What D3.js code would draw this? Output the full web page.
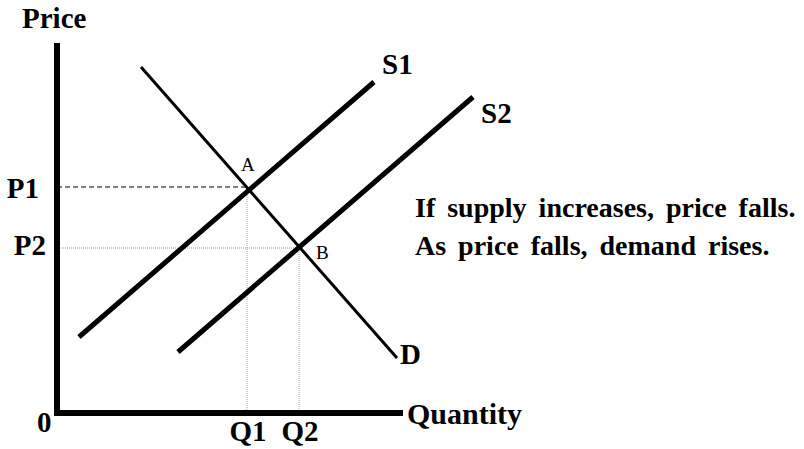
<!DOCTYPE html>
<html lang="en">
<head>
    <meta charset="utf-8">
    <title>Supply shift</title>
    <script type="text/javascript" src="https://d3js.org/d3.v7.min.js"></script>
    <style type="text/css">
        body { margin: 0; background: #fff; }
        text { font-family: "Liberation Serif", "Times New Roman", serif; fill: #000; }
    </style>
</head>
<body>

<script type="text/javascript">

    // Curves as [quantity, price] end points (0..100 units)
    var demand = [[21, 86.5], [85, 13.75]];
    var supply1 = [[5.5, 19], [79.25, 82.75]];
    var supply2 = [[30.25, 15.25], [104, 79]];

    var curveNames = ["S1", "S2", "D"];

    // Equilibrium points
    var pointNames = ["A", "B"];
    var pointQuantity = [47.5, 60.5];
    var pointPrice = [56.5, 41.25];

    var priceLabels = ["P1", "P2"];
    var quantityLabels = ["Q1", "Q2"];

    var axisTop = 92.5;
    var axisRight = 86.5;

    var noteLines = ["If supply increases, price falls.", "As price falls, demand rises."];

    //Width and height
    var w = 804;
    var h = 449;

    var xScale = d3.scaleLinear()
        .domain([0, 100])
        .range([57, 457]);

    var yScale = d3.scaleLinear()
        .domain([0, 100])
        .range([413, 13]);

    var svg = d3.select("body")
        .append("svg")
        .attr("width", w)
        .attr("height", h);

    // guide lines to the axes
    svg.append("line")
        .attr("x1", xScale(0)).attr("x2", xScale(pointQuantity[0]))
        .attr("y1", yScale(pointPrice[0])).attr("y2", yScale(pointPrice[0]))
        .attr("stroke", "#555").attr("stroke-width", 1.3)
        .attr("stroke-dasharray", "5,3");

    svg.append("line")
        .attr("x1", xScale(0)).attr("x2", xScale(pointQuantity[1]))
        .attr("y1", yScale(pointPrice[1])).attr("y2", yScale(pointPrice[1]))
        .attr("stroke", "#999").attr("stroke-width", 1)
        .attr("stroke-dasharray", "1,1");

    svg.selectAll("line.drop")
        .data(pointQuantity)
        .enter()
        .append("line")
        .attr("class", "drop")
        .attr("x1", function(d) { return xScale(d); })
        .attr("x2", function(d) { return xScale(d); })
        .attr("y1", function(d, i) { return yScale(pointPrice[i]); })
        .attr("y2", yScale(0))
        .attr("stroke", "#aaa").attr("stroke-width", 1)
        .attr("stroke-dasharray", "1,1");

    // curves
    var line = d3.line()
        .x(function(d) { return xScale(d[0]); })
        .y(function(d) { return yScale(d[1]); });

    var curves = [supply1, supply2, demand];
    var curveWidth = [5, 5, 3];

    svg.selectAll("path.curve")
        .data(curves)
        .enter()
        .append("path")
        .attr("class", "curve")
        .attr("d", line)
        .attr("fill", "none")
        .attr("stroke", "#000")
        .attr("stroke-width", function(d, i) { return curveWidth[i]; });

    // axes
    svg.append("line")
        .attr("x1", xScale(0)).attr("x2", xScale(0))
        .attr("y1", yScale(axisTop)).attr("y2", yScale(0) + 3)
        .attr("stroke", "#000").attr("stroke-width", 6);

    svg.append("line")
        .attr("x1", xScale(0) - 3).attr("x2", xScale(axisRight))
        .attr("y1", yScale(0)).attr("y2", yScale(0))
        .attr("stroke", "#000").attr("stroke-width", 6);

    // curve labels
    var curveLabelOffset = [[8, -8], [8, 26], [3, 6]];
    svg.selectAll("text.curve-label")
        .data(curveNames)
        .enter()
        .append("text")
        .attr("class", "curve-label")
        .attr("x", function(d, i) { return xScale(curves[i][1][0]) + curveLabelOffset[i][0]; })
        .attr("y", function(d, i) { return yScale(curves[i][1][1]) + curveLabelOffset[i][1]; })
        .attr("font-size", 29)
        .attr("font-weight", "bold")
        .text(function(d) { return d; });

    // point labels
    var pointLabelOffset = [[-6, -16], [17, 11]];
    svg.selectAll("text.point-label")
        .data(pointNames)
        .enter()
        .append("text")
        .attr("class", "point-label")
        .attr("x", function(d, i) { return xScale(pointQuantity[i]) + pointLabelOffset[i][0]; })
        .attr("y", function(d, i) { return yScale(pointPrice[i]) + pointLabelOffset[i][1]; })
        .attr("font-size", 19)
        .text(function(d) { return d; });

    // price labels
    var priceLabelRight = [39, 46];
    var priceLabelDy = [11, 7];
    svg.selectAll("text.price-label")
        .data(priceLabels)
        .enter()
        .append("text")
        .attr("class", "price-label")
        .attr("x", function(d, i) { return priceLabelRight[i]; })
        .attr("y", function(d, i) { return yScale(pointPrice[i]) + priceLabelDy[i]; })
        .attr("text-anchor", "end")
        .attr("font-size", 29)
        .attr("font-weight", "bold")
        .text(function(d) { return d; });

    // quantity labels
    svg.selectAll("text.quantity-label")
        .data(quantityLabels)
        .enter()
        .append("text")
        .attr("class", "quantity-label")
        .attr("x", function(d, i) { return xScale(pointQuantity[i]) + 1; })
        .attr("y", yScale(0) + 28)
        .attr("text-anchor", "middle")
        .attr("font-size", 29)
        .attr("font-weight", "bold")
        .text(function(d) { return d; });

    svg.append("text")
        .attr("x", 37).attr("y", 432)
        .attr("font-size", 29).attr("font-weight", "bold")
        .text("0");

    svg.append("text")
        .attr("x", 22).attr("y", 28)
        .attr("font-size", 29).attr("font-weight", "bold")
        .text("Price");

    svg.append("text")
        .attr("x", xScale(axisRight) + 4).attr("y", yScale(0) + 11)
        .attr("font-size", 30).attr("font-weight", "bold")
        .text("Quantity");

    // note
    svg.selectAll("text.note")
        .data(noteLines)
        .enter()
        .append("text")
        .attr("class", "note")
        .attr("x", 415)
        .attr("y", function(d, i) { return 217 + i * 38; })
        .attr("font-size", 28)
        .attr("font-weight", "bold")
        .attr("word-spacing", 5)
        .text(function(d) { return d; });

</script>
</body>
</html>
